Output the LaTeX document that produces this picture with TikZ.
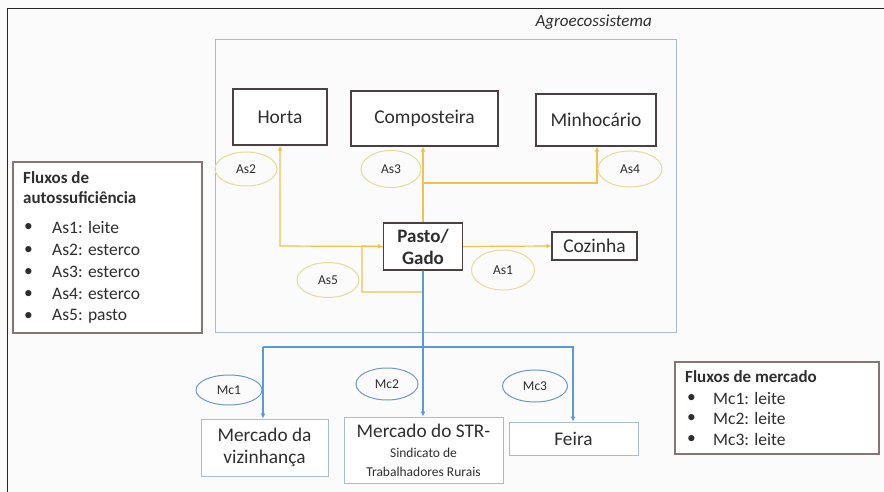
\documentclass[tikz,border=0pt]{standalone}
\usepackage{fontspec}
\setmainfont{Carlito}
\usetikzlibrary{arrows.meta,shapes.geometric}
\definecolor{bgc}{HTML}{FBFBFB}
\definecolor{boxc}{HTML}{4A4040}
\definecolor{legc}{HTML}{857676}
\definecolor{agroc}{HTML}{A9BCCB}
\definecolor{mboxc}{HTML}{A6BCCF}
\definecolor{yel}{HTML}{F2C14E}
\definecolor{yell}{HTML}{E9DA98}
\definecolor{blu}{HTML}{5B9BD5}
\definecolor{blul}{HTML}{6F98C4}
\definecolor{txt}{HTML}{2E2E2E}
\tikzset{
  sbox/.style={draw=boxc,line width=1.3pt,fill=white,text=txt,inner sep=0pt,font=\fontsize{19.5}{22}\selectfont},
  mbox/.style={draw=mboxc,line width=1pt,fill=white,text=txt,inner sep=0pt,align=center,font=\fontsize{19.3}{22}\selectfont},
  yel ell/.style={draw=yell,line width=1pt,ellipse,inner sep=0pt,text=txt,font=\fontsize{13.5}{15}\selectfont},
  blu ell/.style={draw=blul,line width=1pt,ellipse,inner sep=0pt,text=txt,font=\fontsize{13.5}{15}\selectfont},
  yflow/.style={draw=yel,line width=1.2pt},
  bflow/.style={draw=blu,line width=1.5pt},
  yarr/.style={-{Latex[length=5pt,width=5pt]}},
  legbox/.style={draw=legc,line width=1.3pt,fill=white},
  legtxt/.style={anchor=west,inner sep=0pt,text=txt,font=\fontsize{17.5}{20}\selectfont},
}
\begin{document}
\begin{tikzpicture}[x=1pt,y=-1pt]
\useasboundingbox (0,0) rectangle (884,492);
\fill[bgc] (0,0) rectangle (884,492);
% outer frame (top and left edges)
\draw[line width=1.6pt,black!85] (7.5,492) -- (7.5,8.5) -- (884,8.5);

% agroecossistema
\draw[draw=agroc,line width=1pt] (215,40) rectangle (676,332);
\node[anchor=east,inner sep=0pt,text=txt,font=\fontsize{17}{19}\selectfont\itshape] (agro) at (652,22) {Agroecossistema};

% boxes
\node[sbox,minimum width=94pt,minimum height=56pt] (horta) at (280,117) {Horta};
\node[sbox,minimum width=147pt,minimum height=55pt] (comp) at (424.5,118.5) {Composteira};
\node[sbox,minimum width=120pt,minimum height=52pt] (minh) at (596,120) {Minhocário};
\node[sbox,minimum width=79pt,minimum height=47pt,align=center,font=\fontsize{19}{22}\selectfont\bfseries] (pasto) at (423,246.5) {Pasto/\\Gado};
\node[sbox,minimum width=85pt,minimum height=28pt] (coz) at (594.5,246) {Cozinha};

% yellow flows
\coordinate (pw) at (pasto.west);
\coordinate (kA) at (280,246);
\coordinate (kB) at (423,183);
\coordinate (kC) at (597,183);
\coordinate (kD) at (423,292);
\coordinate (kE) at (362,292);
\coordinate (kF) at (362,246);
\draw[yflow,yarr] (pw) -- (kA) -- (horta.south);
\draw[yflow,yarr] (pasto.north) -- (comp.south -| pasto.north);
\draw[yflow,yarr] (kB) -- (kC) -- (minh.south -| kC);
\draw[yflow,yarr] (pasto.east) -- (coz.west);
\draw[yflow,yarr] (pasto.south) -- (kD) -- (kE) -- (kF) -- (pw);

% yellow ellipses
\node[yel ell,minimum width=62pt,minimum height=34pt] (as2) at (246,169) {As2};
\node[yel ell,minimum width=60pt,minimum height=37pt] (as3) at (391,169) {As3};
\node[yel ell,minimum width=64pt,minimum height=36pt] (as4) at (630,169) {As4};
\node[yel ell,minimum width=62pt,minimum height=35pt] (as5) at (328,280) {As5};
\node[yel ell,minimum width=63pt,minimum height=40pt] (as1) at (503,270) {As1};

% market boxes
\node[mbox,minimum width=127pt,minimum height=57pt] (mviz) at (264.5,447.5) {Mercado da\\vizinhança};
\node[mbox,minimum width=159pt,minimum height=66pt] (mstr) at (423.5,450) {Mercado do STR-\\[-2pt]{\fontsize{13.5}{16}\selectfont Sindicato de}\\[-3pt]{\fontsize{13.5}{16}\selectfont Trabalhadores Rurais}};
\node[mbox,minimum width=129pt,minimum height=33pt] (feira) at (573.5,438.5) {Feira};

% blue flows
\coordinate (bM) at (423,347);
\coordinate (bL) at (263,347);
\coordinate (bR) at (573,347);
\draw[bflow,yarr] (pasto.south) -- (mstr.north -| pasto.south);
\draw[bflow,yarr] (bL) -- (bR) -- (feira.north -| bR);
\draw[bflow,yarr] (bL) -- (mviz.north -| bL);

% blue ellipses
\node[blu ell,minimum width=66pt,minimum height=30pt] (mc1) at (229,390) {Mc1};
\node[blu ell,minimum width=62pt,minimum height=32pt] (mc2) at (387,384) {Mc2};
\node[blu ell,minimum width=65pt,minimum height=32pt] (mc3) at (535,386) {Mc3};

% left legend
\draw[legbox] (13,162) rectangle (202,333);
\node[legtxt,font=\fontsize{17}{20}\selectfont\bfseries] (lt1) at (23,178) {Fluxos de};
\node[legtxt,font=\fontsize{17}{20}\selectfont\bfseries] (lt2) at (23,198) {autossuficiência};
\foreach \y/\t [count=\i] in {227/As1: leite,250/As2: esterco,272/As3: esterco,294/As4: esterco,316/As5: pasto}{
  \node[legtxt] (lb\i) at (24,\y) {•};
  \node[legtxt] (ll\i) at (52,\y) {\t};
}

% right legend
\draw[legbox] (675,362) rectangle (879,454);
\node[legtxt,font=\fontsize{17}{20}\selectfont\bfseries] (rt) at (685,377) {Fluxos de mercado};
\foreach \y/\t [count=\i] in {398/Mc1: leite,418/Mc2: leite,439/Mc3: leite}{
  \node[legtxt] (rb\i) at (687,\y) {•};
  \node[legtxt] (rl\i) at (713,\y) {\t};
}
\end{tikzpicture}
\end{document}
